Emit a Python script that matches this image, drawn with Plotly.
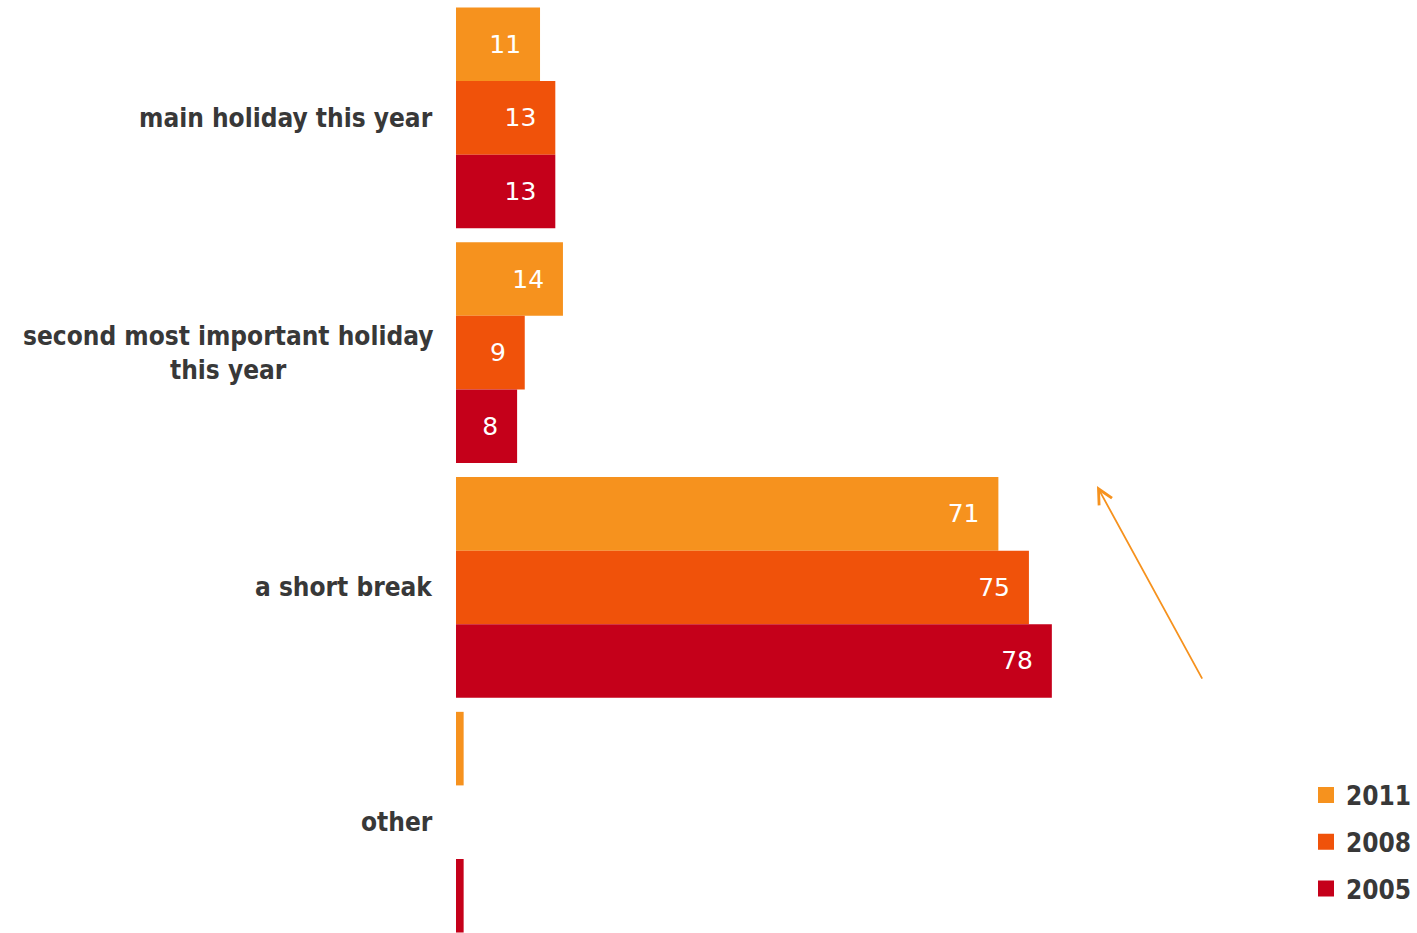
import plotly.graph_objects as go

# Survey categories (top to bottom) and shares per survey year
categories = [
    "main holiday this year",
    "second most important holiday<br>this year",
    "a short break",
    "other",
]
years = ["2011", "2008", "2005"]
values_2011 = [11, 14, 71, 1]
values_2008 = [13, 9, 75, 0]
values_2005 = [13, 8, 78, 1]

series = [values_2011, values_2008, values_2005]
colors = ["#F6921E", "#F0520A", "#C5001A"]

NBSP = "\u00a0"
LABEL_FONT = "DejaVu Sans Condensed"

fig = go.Figure()
for year, vals, col in zip(years, series, colors):
    fig.add_trace(go.Bar(
        y=list(range(len(categories))),
        x=vals,
        orientation="h",
        name=year,
        showlegend=False,
        marker=dict(color=col, line=dict(width=0)),
        text=[f"{v}{NBSP}{NBSP}" if v else "" for v in vals],
        textposition="auto",
        insidetextanchor="end",
        textfont=dict(family="DejaVu Sans", size=25, color="white"),
        outsidetextfont=dict(family="DejaVu Sans", size=25, color="white"),
        cliponaxis=False,
        hoverinfo="skip",
    ))
    # legend entry with a larger square swatch
    fig.add_trace(go.Scatter(
        x=[None], y=[None], mode="markers", name=year, legendgroup=year,
        marker=dict(symbol="square", size=16, color=col),
        hoverinfo="skip",
    ))

# Category labels, centred line by line to the left of the bars
for i, cat in enumerate(categories):
    fig.add_annotation(
        x=-0.0215, xref="paper", xanchor="right",
        y=i, yref="y", yanchor="middle",
        text=cat, showarrow=False, align="center",
        font=dict(family=LABEL_FONT, size=26, color="#383838", weight="bold"),
    )

# Trend arrow on the right
fig.add_annotation(
    x=0.667, y=0.479, xref="paper", yref="paper",
    ax=106, ay=194, axref="pixel", ayref="pixel",
    text="", showarrow=True,
    arrowhead=5, arrowsize=1.6, arrowwidth=1.8, arrowcolor="#F6921E",
)

fig.update_layout(
    width=1417, height=933,
    margin=dict(l=456, r=0, t=0, b=0),
    paper_bgcolor="white", plot_bgcolor="white",
    barmode="group", bargap=0.06, bargroupgap=0,
    xaxis=dict(range=[0, 125.8], visible=False, fixedrange=True),
    yaxis=dict(range=[3.472, -0.502], visible=False, fixedrange=True),
    legend=dict(
        x=1, xanchor="right", y=0.0975, yanchor="middle",
        font=dict(family=LABEL_FONT, size=26, color="#383838", weight="bold"),
        tracegroupgap=10, itemclick=False, bgcolor="rgba(0,0,0,0)",
    ),
    showlegend=True,
)

fig.write_html("out.html")
